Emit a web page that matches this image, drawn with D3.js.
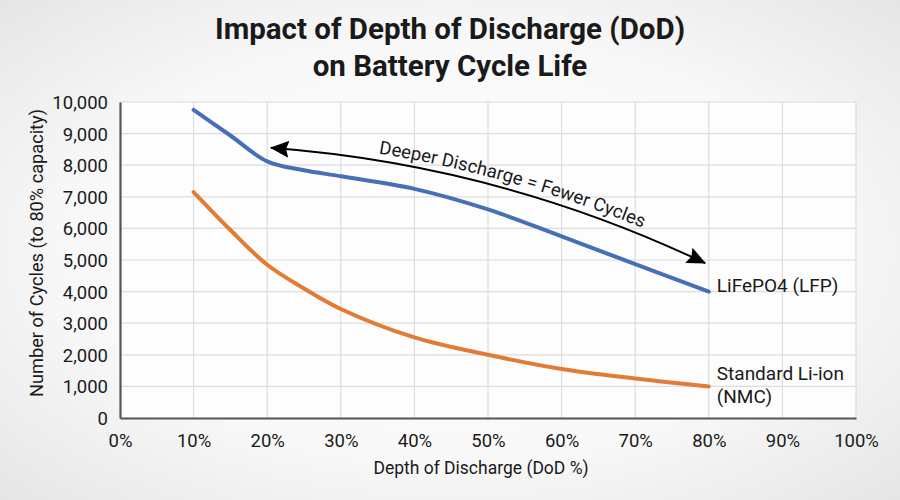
<!DOCTYPE html>
<html>
<head>
<meta charset="utf-8">
<script src="https://cdn.jsdelivr.net/npm/d3@7"></script>
<style>
  html, body { margin: 0; padding: 0; }
  body { width: 900px; height: 500px; overflow: hidden; }
  text { font-family: Roboto, "Noto Sans", sans-serif; fill: #1a1a1a; }
</style>
</head>
<body>
<div id="chart"></div>
<script>
// Données
var titleLines = ["Impact of Depth of Discharge (DoD)", "on Battery Cycle Life"];
var dodLevels = [10, 15, 20, 25, 30, 40, 50, 60, 70, 80];
var lfpCycles = [9750, 8940, 8120, 7840, 7650, 7250, 6600, 5750, 4870, 4000];
var nmcCycles = [7150, 5950, 4850, 4100, 3450, 2550, 2000, 1550, 1250, 1000];
var seriesLabels = [["LiFePO4 (LFP)"], ["Standard Li-ion", "(NMC)"]];
var xTicks = [0, 10, 20, 30, 40, 50, 60, 70, 80, 90, 100];
var yTicks = [0, 1000, 2000, 3000, 4000, 5000, 6000, 7000, 8000, 9000, 10000];
var arrowFrom = [20.5, 8550];
var arrowTo = [79.5, 4900];
var arrowText = "Deeper Discharge = Fewer Cycles";

// Dimensions
var W = 900, H = 500;
var margin = { top: 102, right: 44, bottom: 82, left: 120 };
var width = W - margin.left - margin.right,
    height = H - margin.top - margin.bottom;

var svg = d3.select("#chart").append("svg")
    .attr("width", W)
    .attr("height", H);

// fond dégradé
var defs = svg.append("defs");
var grad = defs.append("radialGradient")
    .attr("id", "bg")
    .attr("cx", "50%").attr("cy", "50%").attr("r", "70%");
grad.append("stop").attr("offset", "0%").attr("stop-color", "#ffffff");
grad.append("stop").attr("offset", "60%").attr("stop-color", "#f8f8f8");
grad.append("stop").attr("offset", "100%").attr("stop-color", "#e6e6e6");

svg.append("rect")
    .attr("width", W).attr("height", H)
    .attr("fill", "url(#bg)");

// pointes de flèche
defs.append("marker")
    .attr("id", "head")
    .attr("viewBox", "0 0 10 10")
    .attr("refX", 9.5).attr("refY", 5)
    .attr("markerWidth", 19).attr("markerHeight", 19)
    .attr("markerUnits", "userSpaceOnUse")
    .attr("orient", "auto-start-reverse")
    .append("path")
    .attr("d", "M0,0.5 L10,5 L0,9.5 L1.5,5 Z")
    .attr("fill", "#000");

// Echelles
var x = d3.scaleLinear().domain([0, 100]).range([0, width]);
var y = d3.scaleLinear().domain([0, 10000]).range([height, 0]);

var g = svg.append("g")
    .attr("transform", "translate(" + margin.left + "," + margin.top + ")");

g.append("rect")
    .attr("width", width).attr("height", height)
    .attr("fill", "#fdfdfd");

// grille
g.append("g")
    .selectAll("line")
    .data(yTicks.slice(1))
    .enter().append("line")
    .attr("x1", 0).attr("x2", width)
    .attr("y1", function (d) { return y(d); })
    .attr("y2", function (d) { return y(d); })
    .attr("stroke", "#dcdcdc").attr("stroke-width", 1.2);

g.append("g")
    .selectAll("line")
    .data(xTicks.slice(1))
    .enter().append("line")
    .attr("y1", 0).attr("y2", height)
    .attr("x1", function (d) { return x(d); })
    .attr("x2", function (d) { return x(d); })
    .attr("stroke", "#dcdcdc").attr("stroke-width", 1.2);

// axes
var xAxis = g.append("g")
    .attr("transform", "translate(0," + height + ")")
    .call(d3.axisBottom(x).tickValues(xTicks).tickSize(0).tickPadding(16)
        .tickFormat(function (d) { return d + "%"; }));
var yAxis = g.append("g")
    .call(d3.axisLeft(y).tickValues(yTicks).tickSize(0).tickPadding(12)
        .tickFormat(d3.format(",")));

[xAxis, yAxis].forEach(function (a) {
    a.select(".domain").attr("stroke", "#555").attr("stroke-width", 2.2);
    a.selectAll("text")
        .style("font-family", "Roboto, sans-serif")
        .style("font-size", "18.5px")
        .attr("fill", "#1a1a1a");
});
yAxis.selectAll("text").attr("dy", "0.35em");

// titres des axes
svg.append("text")
    .attr("x", 481).attr("y", 474)
    .attr("text-anchor", "middle")
    .style("font-size", "17.5px")
    .text("Depth of Discharge (DoD %)");

svg.append("text")
    .attr("transform", "translate(43,253) rotate(-90)")
    .attr("text-anchor", "middle")
    .style("font-size", "18.2px")
    .text("Number of Cycles (to 80% capacity)");

// titre
svg.append("g").selectAll("text")
    .data(titleLines)
    .enter().append("text")
    .attr("x", W / 2)
    .attr("y", function (d, i) { return 39 + i * 37; })
    .attr("text-anchor", "middle")
    .style("font-size", "29.5px")
    .style("font-weight", "bold")
    .attr("fill", "#111")
    .text(function (d) { return d; });

// courbes
var line = d3.line()
    .x(function (d) { return x(d[0]); })
    .y(function (d) { return y(d[1]); })
    .curve(d3.curveCatmullRom.alpha(0.5));

var series = [
    { values: lfpCycles, color: "#4670b5", label: seriesLabels[0] },
    { values: nmcCycles, color: "#e27b36", label: seriesLabels[1] }
];

series.forEach(function (s) {
    var pts = dodLevels.map(function (d, i) { return [d, s.values[i]]; });
    g.append("path")
        .datum(pts)
        .attr("d", line)
        .attr("fill", "none")
        .attr("stroke", s.color)
        .attr("stroke-width", 4)
        .attr("stroke-linecap", "round");

    var last = pts[pts.length - 1];
    var lab = g.append("text")
        .attr("x", x(last[0]) + 9)
        .attr("y", y(last[1]) + (s.label.length > 1 ? -6 : 0))
        .attr("dy", "0.35em")
        .style("font-size", "19px");
    lab.selectAll("tspan")
        .data(s.label)
        .enter().append("tspan")
        .attr("x", x(last[0]) + 8)
        .attr("dy", function (d, i) { return i === 0 ? 0 : "1.2em"; })
        .text(function (d) { return d; });
});

// annotation : flèche courbe
var x0 = x(arrowFrom[0]), y0 = y(arrowFrom[1]),
    x1 = x(arrowTo[0]), y1 = y(arrowTo[1]);
var dx = x1 - x0, dy = y1 - y0, len = Math.sqrt(dx * dx + dy * dy);
var bend = 42;
var cx = (x0 + x1) / 2 + dy / len * bend,
    cy = (y0 + y1) / 2 - dx / len * bend;
var arcPath = "M" + x0 + "," + y0 + " Q" + cx + "," + cy + " " + x1 + "," + y1;

g.append("path")
    .attr("id", "arrowArc")
    .attr("d", arcPath)
    .attr("fill", "none")
    .attr("stroke", "#000")
    .attr("stroke-width", 2)
    .attr("marker-start", "url(#head)")
    .attr("marker-end", "url(#head)");

g.append("text")
    .attr("dy", -7)
    .style("font-size", "18.5px")
    .append("textPath")
    .attr("href", "#arrowArc")
    .attr("startOffset", "54%")
    .attr("text-anchor", "middle")
    .text(arrowText);
</script>
</body>
</html>
